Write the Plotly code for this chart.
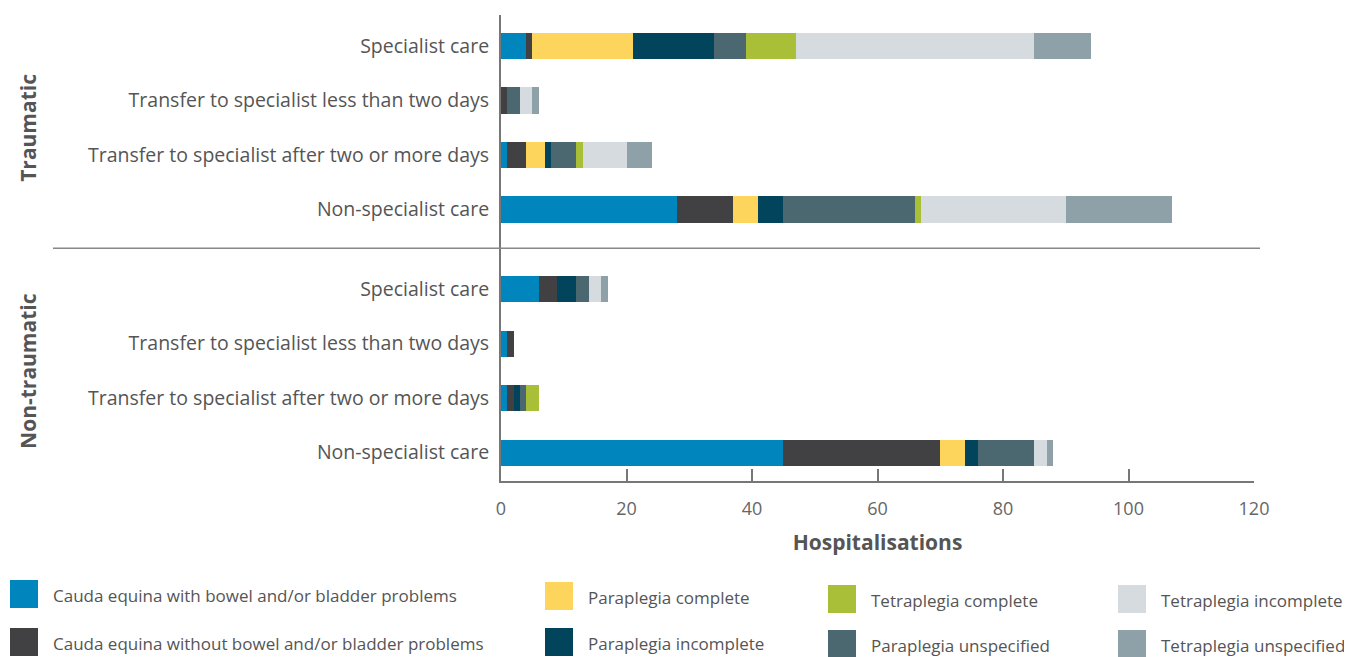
import plotly.graph_objects as go

# rows, top to bottom
groups = ["Traumatic", "Non-traumatic"]
care_types = [
    "Specialist care",
    "Transfer to specialist less than two days",
    "Transfer to specialist after two or more days",
    "Non-specialist care",
]

series_names = [
    "Cauda equina with bowel and/or bladder problems",
    "Cauda equina without bowel and/or bladder problems",
    "Paraplegia complete",
    "Paraplegia incomplete",
    "Paraplegia unspecified",
    "Tetraplegia complete",
    "Tetraplegia incomplete",
    "Tetraplegia unspecified",
]

# values per row: traumatic (4 rows) then non-traumatic (4 rows)
cauda_with = [4, 0, 1, 28, 6, 1, 1, 45]
cauda_without = [1, 1, 3, 9, 3, 1, 1, 25]
para_complete = [16, 0, 3, 4, 0, 0, 0, 4]
para_incomplete = [13, 0, 1, 4, 3, 0, 1, 2]
para_unspecified = [5, 2, 4, 21, 2, 0, 1, 9]
tetra_complete = [8, 0, 1, 1, 0, 0, 2, 0]
tetra_incomplete = [38, 2, 7, 23, 2, 0, 0, 2]
tetra_unspecified = [9, 1, 4, 17, 1, 0, 0, 1]

x_ticks = [0, 20, 40, 60, 80, 100, 120]

# legend reading order: column by column
legend_order = [0, 1, 2, 3, 5, 4, 6, 7]

series_values = [
    cauda_with, cauda_without, para_complete, para_incomplete,
    para_unspecified, tetra_complete, tetra_incomplete, tetra_unspecified,
]
colors = ["#0085BD", "#414143", "#FDD55C", "#01445B",
          "#4B6770", "#AABF38", "#D5DBDE", "#8EA1A9"]

FONT = "Open Sans"
GREY = "#555555"
GROUP_GAP = 1.46

# page body has an 8px margin, so plot area sits at x 501..1254, y 15..481
PL, PT, PW, PH = 501, 15, 753, 466

y_pos = []
y_text = []
for g, grp in enumerate(groups):
    for i, c in enumerate(care_types):
        y_pos.append(g * (len(care_types) - 1 + GROUP_GAP) + i)
        y_text.append(c)

fig = go.Figure()
for name, vals, col in zip(series_names, series_values, colors):
    fig.add_trace(go.Bar(
        x=vals, y=y_pos, name=name, orientation="h",
        marker=dict(color=col, line=dict(width=0)),
        width=0.48, showlegend=False,
    ))

fig.update_layout(
    barmode="stack",
    width=1352, height=657,
    margin=dict(l=PL - 8, r=1352 + 8 - PL - PW, t=PT - 8, b=657 + 8 - PT - PH),
    plot_bgcolor="white", paper_bgcolor="white",
    font=dict(family=FONT, color=GREY),
)

fig.update_xaxes(
    range=[0, 120], tickvals=x_ticks, showgrid=False, zeroline=False,
    showline=True, linecolor="#777777", linewidth=2,
    ticks="inside", ticklen=12, tickwidth=2, tickcolor="#777777",
    tickfont=dict(size=18, color="#666666"), ticklabelstandoff=10,
    title=dict(text="<b>Hospitalisations</b>", font=dict(size=21, color=GREY), standoff=17),
)
fig.update_yaxes(
    range=[7.98, -0.57], tickvals=y_pos, ticktext=y_text,
    showgrid=False, zeroline=False, showline=True,
    linecolor="#777777", linewidth=2, ticks="",
    tickfont=dict(size=19.5, color=GREY), ticklabelstandoff=6,
)

# separator between the two groups
sep_y = (y_pos[3] + y_pos[4]) / 2 - 0.02
fig.add_shape(type="line", xref="paper", yref="y",
              x0=(53 - PL) / PW, x1=(1260 - PL) / PW,
              y0=sep_y, y1=sep_y, line=dict(color="#888888", width=1.5))

# group labels
for g, grp in enumerate(groups):
    rows = y_pos[g * 4:(g + 1) * 4]
    fig.add_annotation(
        x=(28 - PL) / PW, xref="paper", y=(rows[0] + rows[-1]) / 2, yref="y",
        text=f"<b>{grp}</b>", textangle=-90, showarrow=False,
        font=dict(size=21, color=GREY), xanchor="center", yanchor="middle",
    )

# legend drawn as squares + labels, 4 columns x 2 rows
col_x = [10, 545, 828, 1118]
row_y = [[580, 628], [582, 628], [585, 630], [585, 630]]
sq = 28
for k, idx in enumerate(legend_order):
    c, r = divmod(k, 2)
    x0 = col_x[c]
    y0 = row_y[c][r]
    fig.add_shape(type="rect", xref="paper", yref="paper",
                  x0=(x0 - PL) / PW, x1=(x0 + sq - PL) / PW,
                  y0=(PT + PH - y0) / PH, y1=(PT + PH - y0 - sq) / PH,
                  fillcolor=colors[idx], line=dict(width=0))
    fig.add_annotation(
        xref="paper", yref="paper",
        x=(x0 + 41 - PL) / PW, y=(PT + PH - y0 - sq / 2 - 1) / PH,
        text=series_names[idx], showarrow=False, xanchor="left", yanchor="middle",
        font=dict(size=17, color=GREY),
    )

fig.write_html("out.html")
